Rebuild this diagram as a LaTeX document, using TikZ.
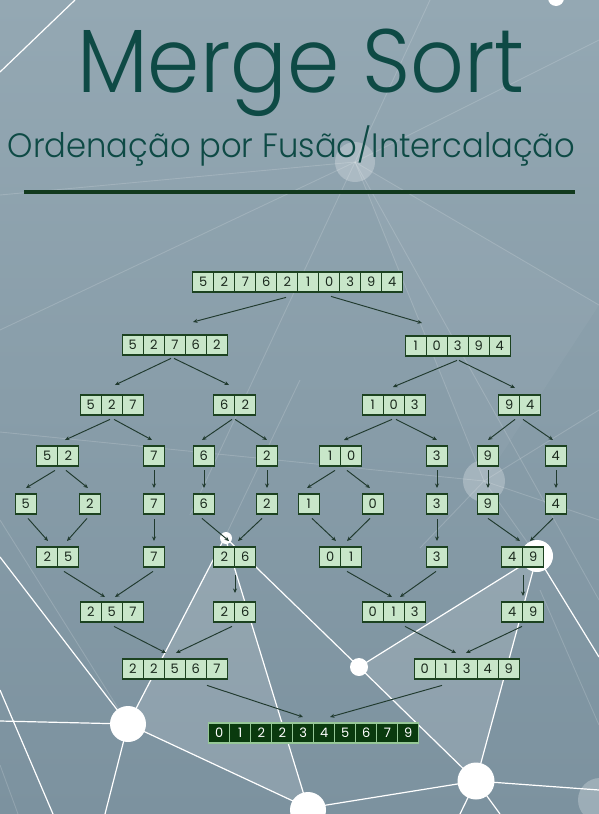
\documentclass[tikz,border=0pt]{standalone}
\usepackage{fontspec}
\setmainfont{Poppins}
\newfontfamily\thinfont{Poppins Light}
\usetikzlibrary{calc,arrows.meta}
\definecolor{bgtop}{RGB}{148,168,179}
\definecolor{bgmid}{RGB}{168,186,195}
\definecolor{bgbot}{RGB}{124,146,159}
\definecolor{titlecol}{RGB}{14,74,69}
\definecolor{rulecol}{RGB}{18,58,30}
\definecolor{cellfill}{RGB}{200,230,201}
\definecolor{cellborder}{RGB}{28,66,32}
\definecolor{darkfill}{RGB}{10,58,14}
\definecolor{darkborder}{RGB}{150,200,152}
\definecolor{arrowcol}{RGB}{32,58,46}
\definecolor{digitcol}{RGB}{25,40,28}
\newcommand\putarr[6]{%
  \node[frame, minimum width=#2*21pt, anchor=north] (#1) at (#3,#4) {};
  \foreach \v [count=\i from 0] in {#5} {\node[#6] (#1-\i) at ($(#1.north west)+(\i*21+10.5,10)$) {\v};}
}
\newcommand\conn[6]{\draw[arr] ($(#1.south)+(#2,#3)$) -- ($(#4.north)+(#5,#6)$);}
\begin{document}
\begin{tikzpicture}[x=1pt,y=-1pt,
  frame/.style={inner sep=0pt, minimum height=20pt},
  cellst/.style={draw=cellborder, fill=cellfill, line width=1.2pt, minimum width=21pt, minimum height=20pt, inner sep=0pt, text=digitcol, font=\fontsize{13}{13}\selectfont},
  darkcell/.style={draw=darkborder, fill=darkfill, line width=1.1pt, minimum width=21pt, minimum height=20pt, inner sep=0pt, text=white, font=\fontsize{13}{13}\selectfont},
  arr/.style={draw=arrowcol, line width=0.95pt, -{Stealth[length=4.5pt,width=4pt]}},
  wline/.style={draw=white, line width=1.2pt},
  fline/.style={draw=white, line width=0.9pt, opacity=0.16},
  wdot/.style={fill=white}]
\useasboundingbox (0,0) rectangle (599,814);
\shade[top color=bgtop, middle color=bgmid, bottom color=bgbot] (0,0) rectangle (599,814);
% lighter facets
\fill[white, opacity=0.13] (225,537) -- (128,724) -- (308,808) -- cycle;
\fill[white, opacity=0.13] (359,667) -- (537,556) -- (476,781) -- cycle;
\fill[white, opacity=0.04] (355,162) -- (484,481) -- (599,305) -- cycle;
% faint network lines
\draw[fline] (355,162) -- (0,330);
\draw[fline] (355,162) -- (190,515);
\draw[fline] (355,162) -- (484,481);
\draw[fline] (355,162) -- (599,600);
\draw[fline] (355,162) -- (599,305);
\draw[fline] (355,162) -- (430,0);
\draw[fline] (355,162) -- (0,195);
\draw[fline] (355,162) -- (599,40);
\draw[fline] (0,432) -- (484,481);
\draw[fline] (484,481) -- (599,410);
\draw[fline] (484,481) -- (599,520);
\draw[fline] (484,481) -- (537,556);
\draw[fline] (484,481) -- (420,548);
\draw[fline] (0,520) -- (128,724);
\draw[fline] (225,537) -- (300,380);
\draw[fline] (540,590) -- (599,725);
\draw[fline] (0,765) -- (18,814);
% bright network lines
\draw[wline] (75,0) -- (0,72);
\draw[wline] (225,537) -- (128,724);
\draw[wline] (225,537) -- (308,808);
\draw[wline] (225,537) -- (359,667);
\draw[wline] (128,724) -- (0,721);
\draw[wline] (128,724) -- (308,808);
\draw[wline] (128,724) -- (105,814);
\draw[wline] (128,724) -- (0,557);
\draw[wline] (0,690) -- (53,814);
\draw[wline] (359,667) -- (537,556);
\draw[wline] (359,667) -- (476,781);
\draw[wline] (537,556) -- (476,781);
\draw[wline] (537,556) -- (599,657);
\draw[wline] (476,781) -- (599,790);
\draw[wline] (476,781) -- (308,808);
\draw[wline] (476,781) -- (460,814);
\draw[wline] (476,781) -- (500,814);
% circles
\fill[white, opacity=0.25] (355,162) circle (20);
\fill[white, opacity=0.25] (484,481) circle (21);
\fill[white, opacity=0.25] (600,800) circle (22);
\fill[wdot] (128,724) circle (18);
\fill[wdot] (359,667) circle (9);
\fill[wdot] (476,781) circle (18.5);
\fill[wdot] (308,810) circle (18);
\fill[wdot] (537,556) circle (16);
\fill[wdot] (226,538) circle (6);
\fill[wdot] (556,-2) circle (8);
% title
\node[anchor=base, yscale=1.07, text=titlecol, font=\thinfont\fontsize{84}{84}\selectfont] (title) at (301,92) {Merge Sort};
\node[anchor=base, yscale=1.05, text=titlecol, font=\thinfont\fontsize{32.2}{32.2}\selectfont] (subtitle) at (291.5,157) {Ordenação por Fusão/Intercalação};
\draw[draw=rulecol, line width=3.6pt] (24,192) -- (575,192);
% arrays
\putarr{a1}{10}{298}{272}{5,2,7,6,2,1,0,3,9,4}{cellst}
\putarr{b1}{5}{175}{335}{5,2,7,6,2}{cellst}
\putarr{b2}{5}{458}{336}{1,0,3,9,4}{cellst}
\putarr{c1}{3}{112}{395}{5,2,7}{cellst}
\putarr{c2}{2}{235}{395}{6,2}{cellst}
\putarr{c3}{3}{394}{395}{1,0,3}{cellst}
\putarr{c4}{2}{520}{395}{9,4}{cellst}
\putarr{d1}{2}{58}{446}{5,2}{cellst}
\putarr{d2}{1}{154}{446}{7}{cellst}
\putarr{d3}{1}{204}{446}{6}{cellst}
\putarr{d4}{1}{267}{446}{2}{cellst}
\putarr{d5}{2}{341}{446}{1,0}{cellst}
\putarr{d6}{1}{437}{446}{3}{cellst}
\putarr{d7}{1}{488}{446}{9}{cellst}
\putarr{d8}{1}{556}{446}{4}{cellst}
\putarr{e1}{1}{26}{494}{5}{cellst}
\putarr{e2}{1}{90}{494}{2}{cellst}
\putarr{e3}{1}{154}{494}{7}{cellst}
\putarr{e4}{1}{204}{494}{6}{cellst}
\putarr{e5}{1}{267}{494}{2}{cellst}
\putarr{e6}{1}{309}{494}{1}{cellst}
\putarr{e7}{1}{373}{494}{0}{cellst}
\putarr{e8}{1}{437}{494}{3}{cellst}
\putarr{e9}{1}{488}{494}{9}{cellst}
\putarr{e10}{1}{556}{494}{4}{cellst}
\putarr{f1}{2}{58}{547}{2,5}{cellst}
\putarr{f2}{1}{154}{547}{7}{cellst}
\putarr{f3}{2}{235}{547}{2,6}{cellst}
\putarr{f4}{2}{341}{547}{0,1}{cellst}
\putarr{f5}{1}{437}{547}{3}{cellst}
\putarr{f6}{2}{523}{547}{4,9}{cellst}
\putarr{g1}{3}{112}{602}{2,5,7}{cellst}
\putarr{g2}{2}{235}{602}{2,6}{cellst}
\putarr{g3}{3}{394}{602}{0,1,3}{cellst}
\putarr{g4}{2}{523}{602}{4,9}{cellst}
\putarr{h1}{5}{175}{659}{2,2,5,6,7}{cellst}
\putarr{h2}{5}{467}{659}{0,1,3,4,9}{cellst}
\putarr{fin}{10}{314}{723}{0,1,2,2,3,4,5,6,7,9}{darkcell}
% connectors
\conn{a1}{-12}{5}{b1}{18}{-13}
\conn{a1}{33}{4}{b2}{-36}{-13}
\conn{b1}{-4}{3}{c1}{3}{-10}
\conn{b1}{-1}{3}{c2}{-6}{-10}
\conn{b2}{-1}{4}{c3}{-1}{-8}
\conn{b2}{1}{4}{c4}{-5}{-7}
\conn{c1}{-2}{4}{d1}{7}{-6}
\conn{c1}{2}{4}{d2}{-2}{-6}
\conn{c2}{-3}{4}{d3}{-2}{-6}
\conn{c2}{0}{4}{d4}{0}{-6}
\conn{c3}{-2}{4}{d5}{3}{-6}
\conn{c3}{2}{4}{d6}{0}{-6}
\conn{c4}{-5}{4}{d7}{0}{-6}
\conn{c4}{3}{4}{d8}{-3}{-6}
\conn{d1}{-3}{4}{e1}{0}{-6}
\conn{d1}{8}{4}{e2}{-2}{-6}
\conn{d2}{0}{4}{e3}{0}{-6}
\conn{d3}{0}{4}{e4}{0}{-6}
\conn{d4}{0}{4}{e5}{0}{-6}
\conn{d5}{-6}{4}{e6}{-2}{-6}
\conn{d5}{6}{4}{e7}{-3}{-6}
\conn{d6}{0}{4}{e8}{0}{-6}
\conn{d7}{0}{4}{e9}{0}{-6}
\conn{d8}{0}{4}{e10}{0}{-6}
\conn{e1}{2}{4}{f1}{-10}{-6}
\conn{e2}{-3}{4}{f1}{9}{-6}
\conn{e3}{0}{5}{f2}{0}{-6}
\conn{e4}{-2}{4}{f3}{-6}{-6}
\conn{e5}{-5}{4}{f3}{3}{-6}
\conn{e6}{3}{4}{f4}{-5}{-6}
\conn{e7}{-3}{4}{f4}{6}{-6}
\conn{e8}{0}{5}{f5}{0}{-6}
\conn{e9}{0}{4}{f6}{-3}{-6}
\conn{e10}{-3}{4}{f6}{7}{-6}
\conn{f1}{6}{4}{g1}{-7}{-5}
\conn{f2}{-1}{4}{g1}{3}{-5}
\conn{f3}{0}{8}{g2}{0}{-9}
\conn{f4}{6}{4}{g3}{-2}{-5}
\conn{f5}{-1}{4}{g3}{6}{-5}
\conn{f6}{0}{8}{g4}{0}{-6}
\conn{g1}{2}{4}{h1}{-9}{-6}
\conn{g2}{-3}{4}{h1}{1}{-6}
\conn{g3}{11}{4}{h2}{-11}{-6}
\conn{g4}{-1}{4}{h2}{-1}{-6}
\conn{h1}{32}{6}{fin}{-11}{-6}
\conn{h2}{-25}{6}{fin}{16}{-6}
\end{tikzpicture}
\end{document}
